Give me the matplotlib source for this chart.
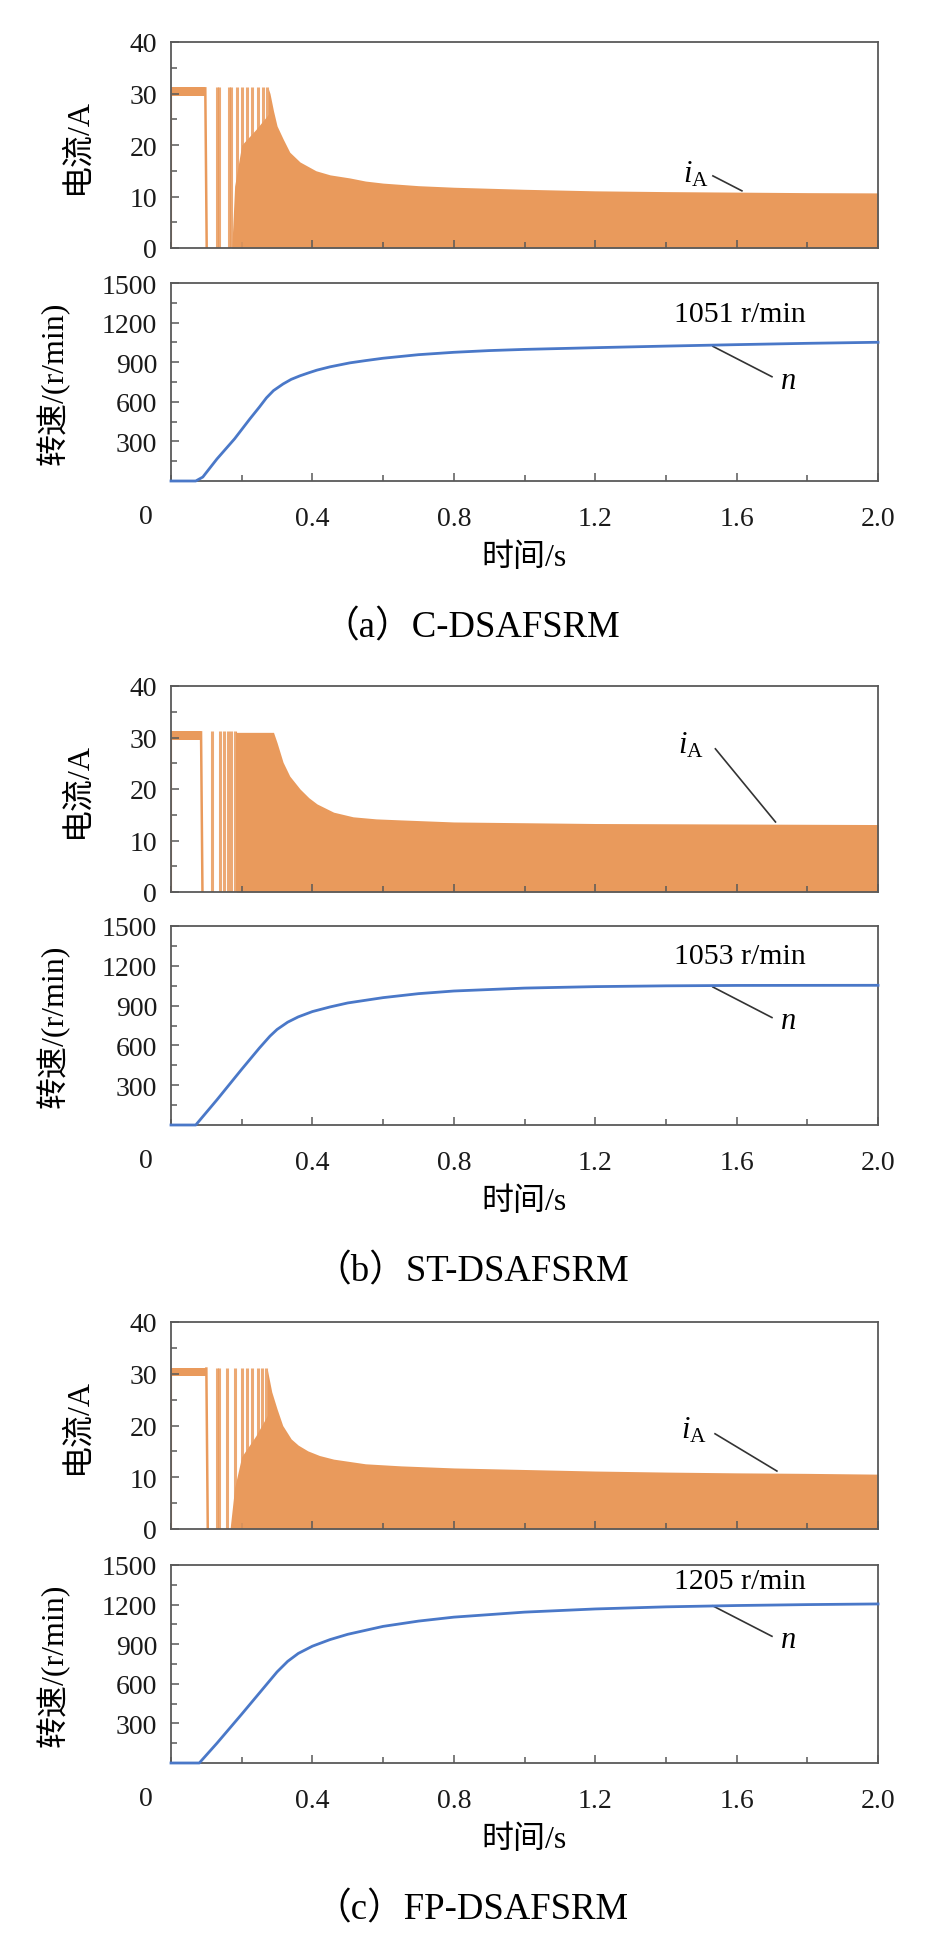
import numpy as np
import matplotlib
matplotlib.use("Agg")
import matplotlib.pyplot as plt
from matplotlib.ticker import MultipleLocator

plt.rcParams['font.family'] = ['Liberation Serif', 'Noto Sans CJK SC']
plt.rcParams['mathtext.fontset'] = 'custom'
plt.rcParams['mathtext.rm'] = 'Liberation Serif'
plt.rcParams['mathtext.it'] = 'Liberation Serif:italic'

# ---- data ----
# current: startup hysteresis band end, early pulses, base fill and envelope
band_end_a = 0.097
spikes_a = [0.13, 0.135, 0.165, 0.17, 0.186, 0.2, 0.215, 0.23, 0.245, 0.26, 0.272]
base_t_a = [0.172, 0.18, 0.2, 0.24, 0.276]
base_i_a = [0, 12, 20, 23, 26]
env_t_a = [0.275, 0.28, 0.29, 0.30, 0.317, 0.336, 0.365, 0.41, 0.45, 0.506, 0.55, 0.6, 0.7, 0.8, 1.0, 1.2, 1.4, 1.6, 1.8, 2.0]
env_i_a = [31, 30, 26.6, 23.7, 21.2, 18.6, 16.7, 15.0, 14.2, 13.6, 13.0, 12.6, 12.1, 11.8, 11.4, 11.1, 10.95, 10.85, 10.75, 10.7]

band_end_b = 0.085
spikes_b = [0.115, 0.14, 0.15, 0.16, 0.17, 0.18]
base_t_b = [0.185, 0.186]
base_i_b = [31, 31]
env_t_b = [0.185, 0.29, 0.30, 0.317, 0.336, 0.365, 0.39, 0.413, 0.46, 0.515, 0.58, 0.65, 0.8, 1.2, 1.6, 2.0]
env_i_b = [31, 31, 29, 25.2, 22.5, 20, 18.3, 17.1, 15.5, 14.6, 14.2, 14.0, 13.6, 13.3, 13.2, 13.1]

band_end_c = 0.1
spikes_c = [0.13, 0.135, 0.158, 0.18, 0.2, 0.215, 0.23, 0.245, 0.258, 0.27]
base_t_c = [0.167, 0.18, 0.2, 0.24, 0.273]
base_i_c = [0, 8, 14, 18, 22]
env_t_c = [0.272, 0.285, 0.30, 0.316, 0.34, 0.36, 0.387, 0.42, 0.46, 0.55, 0.65, 0.8, 1.0, 1.2, 1.4, 1.6, 1.8, 2.0]
env_i_c = [31, 26.5, 23.2, 20, 17.4, 16.2, 15.1, 14.2, 13.5, 12.6, 12.2, 11.8, 11.5, 11.2, 11.0, 10.85, 10.75, 10.6]

# speed
spd_t_a = [0, 0.07, 0.09, 0.13, 0.18, 0.223, 0.25, 0.27, 0.29, 0.317, 0.34, 0.365, 0.39, 0.413, 0.45, 0.506,
           0.55, 0.6, 0.7, 0.8, 0.9, 1.0, 1.2, 1.4, 1.6, 1.8, 2.0]
spd_n_a = [0, 0, 30, 167, 320, 470, 560, 630, 685, 735, 770, 797, 820, 840, 865, 895,
           912, 930, 957, 975, 988, 997, 1010, 1022, 1033, 1043, 1051]

spd_t_b = [0, 0.07, 0.13, 0.2, 0.25, 0.28, 0.3, 0.33, 0.36, 0.4, 0.45, 0.5, 0.6, 0.7, 0.8, 1.0, 1.2, 1.4, 1.6, 2.0]
spd_n_b = [0, 0, 190, 420, 580, 670, 720, 775, 815, 855, 890, 920, 960, 990, 1010, 1032, 1043, 1049, 1052, 1053]

spd_t_c = [0, 0.08, 0.13, 0.2, 0.25, 0.3, 0.33, 0.36, 0.4, 0.45, 0.5, 0.6, 0.7, 0.8, 1.0, 1.2, 1.4, 1.6, 1.8, 2.0]
spd_n_c = [0, 0, 150, 370, 530, 690, 770, 830, 885, 935, 975, 1035, 1075, 1105, 1143, 1167, 1183, 1193, 1200, 1205]

final_speed = [1051, 1053, 1205]
captions = ['（a）C-DSAFSRM', '（b）ST-DSAFSRM', '（c）FP-DSAFSRM']
xticks = [0.4, 0.8, 1.2, 1.6, 2.0]
xticklabels = ['0.4', '0.8', '1.2', '1.6', '2.0']

ORANGE = '#E99A5C'
BLUE = '#4A78C8'
SPINE = '#595959'
W, H = 943, 1940

# pixel layout: (current top, current bottom, speed top, speed bottom)
rows = [(43, 249, 284, 482), (687, 893, 927, 1126), (1323, 1530, 1566, 1764)]
x0, x1 = 171, 878

# annotation positions (data coords)
ia_text = [(1.485, 14.4), (1.47, 28.6), (1.48, 19.1)]
ia_line = [((1.533, 14.0), (1.615, 11.1)), ((1.54, 27.8), (1.71, 13.6)), ((1.539, 18.4), (1.714, 11.2))]
sp_text = [(1.61, 1265), (1.61, 1274), (1.61, 1379)]
n_line = [((1.533, 1020), (1.70, 790)), ((1.533, 1040), (1.70, 810)), ((1.533, 1190), (1.70, 960))]
n_text = [(1.745, 765), (1.745, 785), (1.745, 935)]

currents = [
    (band_end_a, spikes_a, base_t_a, base_i_a, env_t_a, env_i_a),
    (band_end_b, spikes_b, base_t_b, base_i_b, env_t_b, env_i_b),
    (band_end_c, spikes_c, base_t_c, base_i_c, env_t_c, env_i_c),
]
speeds = [(spd_t_a, spd_n_a), (spd_t_b, spd_n_b), (spd_t_c, spd_n_c)]


def style_axes(ax):
    for s in ax.spines.values():
        s.set_color(SPINE)
        s.set_linewidth(1.3)
    ax.tick_params(which='both', direction='in', top=False, right=False,
                   colors=SPINE, labelcolor='#1a1a1a', labelsize=20, width=1.1)
    ax.tick_params(which='major', length=6)
    ax.tick_params(which='minor', length=4)
    ax.tick_params(axis='y', pad=10)
    ax.set_xlim(0, 2.0)
    ax.xaxis.set_minor_locator(MultipleLocator(0.2))


fig = plt.figure(figsize=(W / 100, H / 100), dpi=100)

for k, (ct, cb, st, sb) in enumerate(rows):
    band_end, spikes, base_t, base_i, env_t, env_i = currents[k]

    # current axes
    axc = fig.add_axes([x0 / W, 1 - cb / H, (x1 - x0) / W, (cb - ct) / H])
    style_axes(axc)
    axc.set_ylim(0, 40)
    axc.set_yticks([0, 10, 20, 30, 40])
    axc.yaxis.set_minor_locator(MultipleLocator(5))
    axc.set_xticks(xticks)
    axc.set_xticklabels([])

    axc.fill_between([0, band_end], [29.5, 29.5], [31.2, 31.2], color=ORANGE, lw=0)
    axc.plot([0, 0], [0, 30], color=ORANGE, lw=1.5)
    axc.plot([band_end, band_end + 0.004], [31, 0], color=ORANGE, lw=1.8)
    axc.vlines(spikes, 0, 31.2, color=ORANGE, lw=2.2, alpha=0.85)
    axc.fill_between(base_t, 0, base_i, color=ORANGE, lw=0)
    axc.fill_between(env_t, 0, env_i, color=ORANGE, lw=0)
    axc.set_ylabel('电流/A', fontsize=23, va='center')
    axc.yaxis.set_label_coords((78 - x0) / (x1 - x0), 0.5)

    axc.text(*ia_text[k], r'$i_{\mathrm{A}}$', fontsize=22, ha='center', va='center')
    (p, q) = ia_line[k]
    axc.plot([p[0], q[0]], [p[1], q[1]], color='#333333', lw=1.2)

    # speed axes
    axs = fig.add_axes([x0 / W, 1 - sb / H, (x1 - x0) / W, (sb - st) / H])
    style_axes(axs)
    axs.set_ylim(0, 1500)
    axs.set_yticks([300, 600, 900, 1200, 1500])
    axs.yaxis.set_minor_locator(MultipleLocator(150))
    axs.set_xticks(xticks)
    axs.set_xticklabels(xticklabels)
    axs.tick_params(axis='x', pad=18)

    t, n = speeds[k]
    axs.plot(t, n, color=BLUE, lw=2.0, clip_on=False, zorder=3, solid_joinstyle='round')
    axs.set_ylabel('转速/(r/min)', fontsize=23, va='center')
    axs.yaxis.set_label_coords((53 - x0) / (x1 - x0), 0.5)
    axs.set_xlabel('时间/s', fontsize=23, va='center')
    axs.xaxis.set_label_coords(0.5, -76 / (sb - st))
    axs.text(-25 / (x1 - x0), -36 / (sb - st), '0', transform=axs.transAxes,
             fontsize=20, ha='center', va='center', color='#1a1a1a')

    axs.text(*sp_text[k], f'{final_speed[k]} r/min', fontsize=21.5, ha='center', va='center')
    (p, q) = n_line[k]
    axs.plot([p[0], q[0]], [p[1], q[1]], color='#333333', lw=1.2)
    axs.text(*n_text[k], r'$n$', fontsize=22, ha='center', va='center')

    fig.text(0.5, 1 - (sb + 146) / H, captions[k], fontsize=26.5, ha='center', va='center')

fig.savefig('out.png', dpi=100)
